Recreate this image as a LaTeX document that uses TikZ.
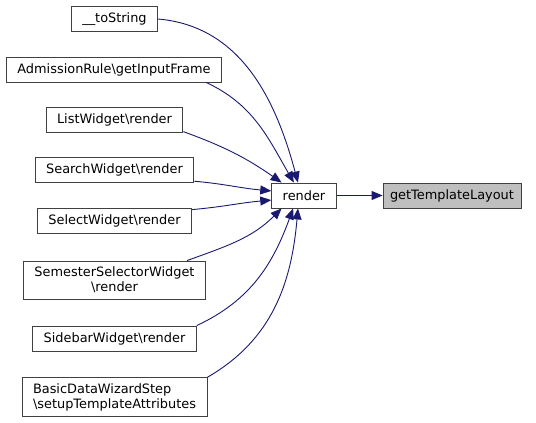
\documentclass[tikz,border=0pt]{standalone}
\usepackage{fontspec}
\setmainfont{DejaVu Sans}
\usetikzlibrary{arrows.meta}
\definecolor{edgeblue}{HTML}{191970}
\definecolor{boxgray}{HTML}{404040}
\definecolor{hlgray}{HTML}{BFBFBF}
\begin{document}
\begin{tikzpicture}[x=1pt,y=1pt,
  fn/.style={draw=boxgray, line width=0.9pt, fill=white, inner xsep=11pt, inner ysep=6pt, minimum height=25pt, font=\fontsize{12.9}{15}\selectfont},
  cur/.style={fn, fill=hlgray, inner xsep=7pt},
  call/.style={edgeblue, line width=0.9pt, -{Triangle[length=11pt,width=9pt]}}]
\useasboundingbox (0,0) rectangle (536,-423);
\node[fn] (ts) at (114.5,-19) {\_\_toString};
\node[fn] (ar) at (114,-69.5) {AdmissionRule\textbackslash getInputFrame};
\node[fn] (lw) at (114.5,-119.5) {ListWidget\textbackslash render};
\node[fn] (sw) at (114.5,-170) {SearchWidget\textbackslash render};
\node[fn] (slw) at (114.5,-220.5) {SelectWidget\textbackslash render};
\node[fn, align=center] (ssw) at (114.5,-280) {SemesterSelectorWidget\\\textbackslash render};
\node[fn] (sbw) at (114.5,-338.5) {SidebarWidget\textbackslash render};
\node[fn, align=left] (bdw) at (114.5,-397) {BasicDataWizardStep\\\textbackslash setupTemplateAttributes};
\node[fn] (r) at (304,-195.5) {render};
\node[cur] (gtl) at (452,-195.5) {getTemplateLayout};
\draw[call] (r.east) -- (gtl.west);
\draw[call] (ts.east) to[out=-5,in=105] (r.115);
\draw[call] (ar.-8) to[out=-25,in=120] (r.128);
\draw[call] (lw.-10) to[out=-20,in=145] (r.150);
\draw[call] (sw.-8) to[out=-5,in=175] (r.172);
\draw[call] (slw.8) to[out=5,in=185] (r.188);
\draw[call] (ssw.15) to[out=20,in=225] (r.210);
\draw[call] (sbw.north east) to[out=25,in=250] (r.230);
\draw[call] (bdw.12.5) to[out=30,in=265] (r.245);
\end{tikzpicture}
\end{document}
